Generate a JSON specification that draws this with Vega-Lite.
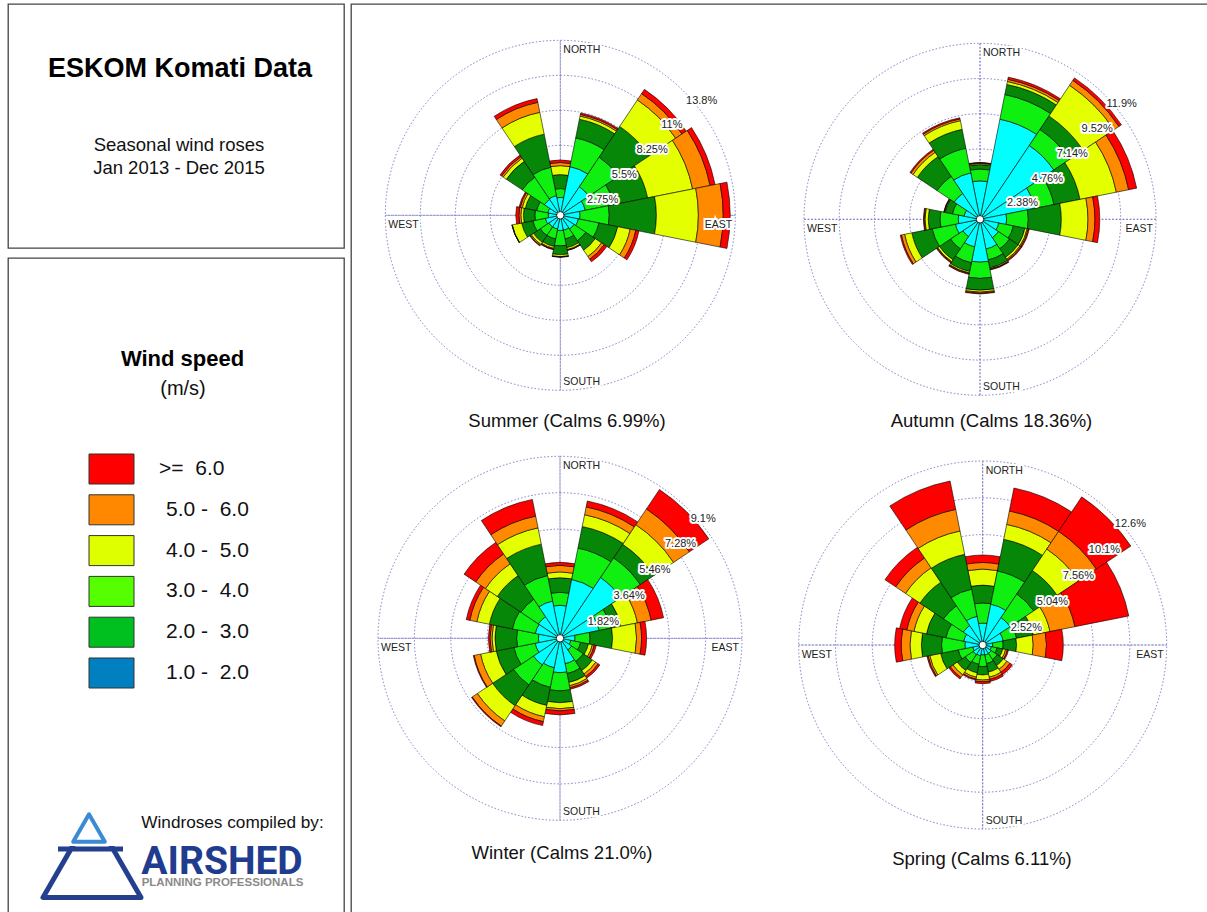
{
  "$schema": "https://vega.github.io/schema/vega-lite/v6.json",
  "background": "white",
  "padding": {"left": 7, "top": 3, "right": 0, "bottom": 0},
  "config": {"font": "Liberation Sans", "view": {"stroke": "#444444", "strokeWidth": 1.3}},
  "datasets": {
    "dirs": [
      {"dir":"N","a0":-11.25,"a1":11.25},{"dir":"NNE","a0":11.25,"a1":33.75},{"dir":"NE","a0":33.75,"a1":56.25},{"dir":"ENE","a0":56.25,"a1":78.75},
      {"dir":"E","a0":78.75,"a1":101.25},{"dir":"ESE","a0":101.25,"a1":123.75},{"dir":"SE","a0":123.75,"a1":146.25},{"dir":"SSE","a0":146.25,"a1":168.75},
      {"dir":"S","a0":168.75,"a1":191.25},{"dir":"SSW","a0":191.25,"a1":213.75},{"dir":"SW","a0":213.75,"a1":236.25},{"dir":"WSW","a0":236.25,"a1":258.75},
      {"dir":"W","a0":258.75,"a1":281.25},{"dir":"WNW","a0":281.25,"a1":303.75},{"dir":"NW","a0":303.75,"a1":326.25},{"dir":"NNW","a0":326.25,"a1":348.75}
    ],
    "axes": [{"a":0},{"a":90},{"a":180},{"a":270}],
    "dNW": [{"l":"NORTH","a":0},{"l":"WEST","a":270}],
    "dE": [{"l":"EAST","a":90}],
    "dS": [{"l":"SOUTH","a":180}],
    "rS": [{"r":2.75,"t":"2.75%"},{"r":5.5,"t":"5.5%"},{"r":8.25,"t":"8.25%"},{"r":11,"t":"11%"},{"r":13.75,"t":"13.8%"}],
    "rA": [{"r":2.38,"t":"2.38%"},{"r":4.76,"t":"4.76%"},{"r":7.14,"t":"7.14%"},{"r":9.52,"t":"9.52%"},{"r":11.9,"t":"11.9%"}],
    "rW": [{"r":1.82,"t":"1.82%"},{"r":3.64,"t":"3.64%"},{"r":5.46,"t":"5.46%"},{"r":7.28,"t":"7.28%"},{"r":9.1,"t":"9.1%"}],
    "rP": [{"r":2.52,"t":"2.52%"},{"r":5.04,"t":"5.04%"},{"r":7.56,"t":"7.56%"},{"r":10.08,"t":"10.1%"},{"r":12.6,"t":"12.6%"}],
    "legend": [
      {"cls":"c6","lab":">=\u00a0 6.0"},{"cls":"c5","lab":"5.0 -\u00a0 6.0"},{"cls":"c4","lab":"4.0 -\u00a0 5.0"},
      {"cls":"c3","lab":"3.0 -\u00a0 4.0"},{"cls":"c2","lab":"2.0 -\u00a0 3.0"},{"cls":"c1","lab":"1.0 -\u00a0 2.0"}
    ],
    "wind": [
      {"season":"Summer","dir":"N","c1":1.4,"c2":0.7,"c3":1.1,"c4":0.7,"c5":0.25,"c6":0.2},
      {"season":"Summer","dir":"NNE","c1":3.9,"c2":2.3,"c3":1.5,"c4":0.25,"c5":0.13,"c6":0.12},
      {"season":"Summer","dir":"NE","c1":2.7,"c2":2.8,"c3":2.9,"c4":2.5,"c5":0.6,"c6":0.4},
      {"season":"Summer","dir":"ENE","c1":2.0,"c2":2.3,"c3":2.7,"c4":3.6,"c5":1.4,"c6":0.4},
      {"season":"Summer","dir":"E","c1":1.55,"c2":2.3,"c3":3.7,"c4":3.3,"c5":1.95,"c6":0.55},
      {"season":"Summer","dir":"ESE","c1":1.45,"c2":1.65,"c3":1.5,"c4":1.0,"c5":0.45,"c6":0.25},
      {"season":"Summer","dir":"SE","c1":1.3,"c2":1.1,"c3":0.9,"c4":0.6,"c5":0.25,"c6":0.25},
      {"season":"Summer","dir":"SSE","c1":1.2,"c2":0.7,"c3":0.7,"c4":0.15,"c5":0.05,"c6":0.02},
      {"season":"Summer","dir":"S","c1":1.2,"c2":1.2,"c3":0.7,"c4":0.15,"c5":0.03,"c6":0.02},
      {"season":"Summer","dir":"SSW","c1":1.1,"c2":0.8,"c3":0.6,"c4":0.15,"c5":0.07,"c6":0.03},
      {"season":"Summer","dir":"SW","c1":1.1,"c2":0.8,"c3":0.65,"c4":0.2,"c5":0.1,"c6":0.05},
      {"season":"Summer","dir":"WSW","c1":1.2,"c2":1.0,"c3":0.9,"c4":0.75,"c5":0.02,"c6":0.01},
      {"season":"Summer","dir":"W","c1":0.95,"c2":1.05,"c3":0.9,"c4":0.2,"c5":0.15,"c6":0.25},
      {"season":"Summer","dir":"WNW","c1":1.0,"c2":0.9,"c3":0.9,"c4":0.25,"c5":0.15,"c6":0.1},
      {"season":"Summer","dir":"NW","c1":1.5,"c2":2.1,"c3":1.5,"c4":0.3,"c5":0.15,"c6":0.15},
      {"season":"Summer","dir":"NNW","c1":1.57,"c2":2.28,"c3":2.65,"c4":1.75,"c5":0.8,"c6":0.3},
      {"season":"Autumn","dir":"N","c1":2.6,"c2":0.8,"c3":0.3,"c4":0.08,"c5":0.04,"c6":0.03},
      {"season":"Autumn","dir":"NNE","c1":6.9,"c2":1.7,"c3":0.7,"c4":0.2,"c5":0.15,"c6":0.15},
      {"season":"Autumn","dir":"NE","c1":6.0,"c2":1.3,"c3":1.1,"c4":2.5,"c5":0.4,"c6":0.2},
      {"season":"Autumn","dir":"ENE","c1":3.8,"c2":1.3,"c3":1.8,"c4":2.5,"c5":0.85,"c6":0.55},
      {"season":"Autumn","dir":"E","c1":1.8,"c2":1.47,"c3":2.23,"c4":1.8,"c5":0.47,"c6":0.33},
      {"season":"Autumn","dir":"ESE","c1":1.3,"c2":1.0,"c3":0.8,"c4":0.15,"c5":0.08,"c6":0.07},
      {"season":"Autumn","dir":"SE","c1":1.5,"c2":0.9,"c3":0.7,"c4":0.15,"c5":0.08,"c6":0.07},
      {"season":"Autumn","dir":"SSE","c1":2.05,"c2":0.75,"c3":0.55,"c4":0.07,"c5":0.04,"c6":0.04},
      {"season":"Autumn","dir":"S","c1":2.9,"c2":1.1,"c3":0.8,"c4":0.13,"c5":0.07,"c6":0.05},
      {"season":"Autumn","dir":"SSW","c1":1.9,"c2":1.1,"c3":0.6,"c4":0.1,"c5":0.05,"c6":0.05},
      {"season":"Autumn","dir":"SW","c1":1.4,"c2":1.0,"c3":0.9,"c4":0.15,"c5":0.05,"c6":0.05},
      {"season":"Autumn","dir":"WSW","c1":1.7,"c2":1.6,"c3":1.4,"c4":0.5,"c5":0.22,"c6":0.08},
      {"season":"Autumn","dir":"W","c1":1.47,"c2":1.23,"c3":0.8,"c4":0.22,"c5":0.06,"c6":0.05},
      {"season":"Autumn","dir":"WNW","c1":1.1,"c2":0.8,"c3":0.5,"c4":0.05,"c5":0.03,"c6":0.02},
      {"season":"Autumn","dir":"NW","c1":2.1,"c2":1.4,"c3":1.6,"c4":0.35,"c5":0.17,"c6":0.08},
      {"season":"Autumn","dir":"NNW","c1":3.2,"c2":1.7,"c3":1.3,"c4":0.6,"c5":0.12,"c6":0.08},
      {"season":"Winter","dir":"N","c1":1.65,"c2":0.65,"c3":0.73,"c4":0.29,"c5":0.33,"c6":0.15},
      {"season":"Winter","dir":"NNE","c1":3.0,"c2":1.6,"c3":1.1,"c4":0.6,"c5":0.4,"c6":0.3},
      {"season":"Winter","dir":"NE","c1":3.65,"c2":1.18,"c3":0.82,"c4":1.18,"c5":0.95,"c6":1.17},
      {"season":"Winter","dir":"ENE","c1":2.0,"c2":0.6,"c3":0.5,"c4":0.85,"c5":0.7,"c6":0.63},
      {"season":"Winter","dir":"E","c1":0.75,"c2":0.75,"c3":1.13,"c4":1.2,"c5":0.25,"c6":0.25},
      {"season":"Winter","dir":"ESE","c1":0.55,"c2":0.5,"c3":0.4,"c4":0.2,"c5":0.1,"c6":0.1},
      {"season":"Winter","dir":"SE","c1":0.7,"c2":0.7,"c3":0.55,"c4":0.2,"c5":0.15,"c6":0.1},
      {"season":"Winter","dir":"SSE","c1":1.3,"c2":0.5,"c3":0.45,"c4":0.17,"c5":0.1,"c6":0.08},
      {"season":"Winter","dir":"S","c1":1.72,"c2":0.91,"c3":0.59,"c4":0.3,"c5":0.11,"c6":0.2},
      {"season":"Winter","dir":"SSW","c1":1.5,"c2":1.0,"c3":0.92,"c4":0.58,"c5":0.25,"c6":0.2},
      {"season":"Winter","dir":"SW","c1":1.6,"c2":1.2,"c3":1.25,"c4":0.92,"c5":0.31,"c6":0.04},
      {"season":"Winter","dir":"WSW","c1":1.27,"c2":1.08,"c3":0.9,"c4":0.8,"c5":0.33,"c6":0.04},
      {"season":"Winter","dir":"W","c1":1.08,"c2":1.09,"c3":1.08,"c4":0.15,"c5":0.1,"c6":0.08},
      {"season":"Winter","dir":"WNW","c1":1.26,"c2":1.17,"c3":1.17,"c4":0.64,"c5":0.36,"c6":0.18},
      {"season":"Winter","dir":"NW","c1":1.3,"c2":1.05,"c3":1.42,"c4":0.71,"c5":0.59,"c6":0.7},
      {"season":"Winter","dir":"NNW","c1":1.9,"c2":1.3,"c3":1.6,"c4":0.83,"c5":0.6,"c6":0.85},
      {"season":"Spring","dir":"N","c1":1.5,"c2":1.38,"c3":1.22,"c4":1.1,"c5":0.45,"c6":0.51},
      {"season":"Spring","dir":"NNE","c1":2.85,"c2":2.32,"c3":2.21,"c4":1.04,"c5":0.94,"c6":1.6},
      {"season":"Spring","dir":"NE","c1":2.26,"c2":1.94,"c3":1.93,"c4":1.77,"c5":1.46,"c6":2.84},
      {"season":"Spring","dir":"ENE","c1":1.44,"c2":0.93,"c3":1.17,"c4":1.16,"c5":1.74,"c6":3.76},
      {"season":"Spring","dir":"E","c1":0.68,"c2":0.72,"c3":0.92,"c4":1.14,"c5":0.91,"c6":1.15},
      {"season":"Spring","dir":"ESE","c1":0.6,"c2":0.4,"c3":0.4,"c4":0.2,"c5":0.12,"c6":0.08},
      {"season":"Spring","dir":"SE","c1":0.7,"c2":0.5,"c3":0.5,"c4":0.3,"c5":0.25,"c6":0.2},
      {"season":"Spring","dir":"SSE","c1":0.7,"c2":0.6,"c3":0.6,"c4":0.35,"c5":0.15,"c6":0.15},
      {"season":"Spring","dir":"S","c1":0.68,"c2":0.8,"c3":0.57,"c4":0.35,"c5":0.12,"c6":0.13},
      {"season":"Spring","dir":"SSW","c1":0.75,"c2":0.6,"c3":0.6,"c4":0.3,"c5":0.13,"c6":0.07},
      {"season":"Spring","dir":"SW","c1":0.8,"c2":0.65,"c3":0.65,"c4":0.35,"c5":0.23,"c6":0.12},
      {"season":"Spring","dir":"WSW","c1":0.7,"c2":1.01,"c3":1.23,"c4":0.76,"c5":0.12,"c6":0.08},
      {"season":"Spring","dir":"W","c1":1.22,"c2":1.6,"c3":1.38,"c4":0.78,"c5":0.6,"c6":0.45},
      {"season":"Spring","dir":"WNW","c1":1.33,"c2":1.24,"c3":1.36,"c4":0.87,"c5":0.5,"c6":0.5},
      {"season":"Spring","dir":"NW","c1":1.6,"c2":1.63,"c3":1.94,"c4":1.19,"c5":0.81,"c6":0.88},
      {"season":"Spring","dir":"NNW","c1":2.0,"c2":1.9,"c3":2.43,"c4":1.63,"c5":1.51,"c6":1.98}
    ]
  },
  "spacing": 5,
  "hconcat": [
    {
      "spacing": 8,
      "vconcat": [
        {
          "width": 336, "height": 244,
          "data": {"values": [{}]},
          "encoding": {
            "x": {"datum": "c", "type": "nominal", "scale": {"type": "point", "domain": ["c"], "range": [171, 171], "padding": 0}, "axis": null}
          },
          "layer": [
            {"mark": {"type": "text", "text": "ESKOM Komati Data", "fontSize": 27, "fontWeight": "bold", "align": "center", "baseline": "middle", "dx": 1, "color": "#000000"},
             "encoding": {"y": {"datum": "a", "type": "nominal", "scale": {"type": "point", "domain": ["a", "b"], "range": [65, 141], "padding": 0}, "axis": null}}},
            {"mark": {"type": "text", "text": ["Seasonal wind roses", "Jan 2013 - Dec 2015"], "lineHeight": 23, "fontSize": 18.5, "align": "center", "baseline": "middle", "color": "#111111"},
             "encoding": {"y": {"datum": "b", "type": "nominal", "axis": null}}}
          ]
        },
        {
          "width": 336, "height": 660,
          "resolve": {"scale": {"x": "independent", "y": "independent"}},
          "layer": [
            {"data": {"values": [{}]}, "mark": {"type": "text", "text": "Wind speed", "fontSize": 22, "fontWeight": "bold", "align": "center", "baseline": "middle", "dx": 6.5, "dy": -229, "color": "#000000"}, "encoding": {}},
            {"data": {"values": [{}]}, "mark": {"type": "text", "text": "(m/s)", "fontSize": 20, "align": "center", "baseline": "middle", "dx": 7, "dy": -199, "color": "#111111"}, "encoding": {}},
            {
              "data": {"name": "legend"},
              "layer": [
                {
                  "mark": {"type": "point", "shape": "M-1,-0.667H1V0.667H-1Z", "size": 2025, "filled": true, "stroke": "#333333", "strokeWidth": 1, "opacity": 1},
                  "encoding": {
                    "x": {"datum": "swatch", "type": "nominal", "scale": {"type": "point", "domain": ["swatch", "label"], "range": [103.5, 151], "padding": 0}, "axis": null},
                    "y": {"field": "cls", "type": "nominal", "scale": {"type": "point", "domain": ["c6","c5","c4","c3","c2","c1"], "range": [211, 415], "padding": 0}, "axis": null},
                    "fill": {"field": "cls", "type": "nominal", "scale": {"domain": ["c6","c5","c4","c3","c2","c1"], "range": ["#ff0000","#ff8800","#ddff00","#55ff00","#00c020","#0080c0"]}, "legend": null}
                  }
                },
                {
                  "transform": [{"filter": {"field": "cls", "equal": "c6"}}],
                  "mark": {"type": "text", "align": "left", "baseline": "middle", "fontSize": 21, "color": "#111111"},
                  "encoding": {
                    "x": {"datum": "label", "type": "nominal", "axis": null},
                    "y": {"field": "cls", "type": "nominal", "axis": null},
                    "text": {"field": "lab"}
                  }
                },
                {
                  "transform": [{"filter": {"not": {"field": "cls", "equal": "c6"}}}],
                  "mark": {"type": "text", "align": "left", "baseline": "middle", "fontSize": 21, "dx": 7, "color": "#111111"},
                  "encoding": {
                    "x": {"datum": "label", "type": "nominal", "axis": null},
                    "y": {"field": "cls", "type": "nominal", "axis": null},
                    "text": {"field": "lab"}
                  }
                }
              ]
            },
            {"data": {"values": [{}]}, "mark": {"type": "text", "text": "Windroses compiled by:", "fontSize": 17.2, "align": "center", "baseline": "middle", "dx": 56.5, "dy": 235, "color": "#111111"}, "encoding": {}},
            {"data": {"values": [{}]}, "mark": {"type": "text", "text": "AIRSHED", "font": "Roboto", "fontSize": 39, "fontWeight": "bold", "align": "center", "baseline": "middle", "dx": 46, "dy": 274, "color": "#1f3c8f"}, "encoding": {}},
            {"data": {"values": [{}]}, "mark": {"type": "text", "text": "PLANNING PROFESSIONALS", "fontSize": 11.5, "fontWeight": "bold", "align": "center", "baseline": "middle", "dx": 46.5, "dy": 295, "color": "#8a8a8a"}, "encoding": {}},
            {"data": {"values": [{}]}, "mark": {"type": "point", "shape": "triangle-up", "size": 9604, "filled": false, "color": "#233f8e", "strokeWidth": 5, "strokeJoin": "round", "opacity": 1},
             "encoding": {"x": {"datum": "c", "type": "nominal", "scale": {"type": "point", "domain": ["c"], "range": [84, 84], "padding": 0}, "axis": null},
                          "y": {"datum": "c", "type": "nominal", "scale": {"type": "point", "domain": ["c"], "range": [597, 597], "padding": 0}, "axis": null}}},
            {"data": {"values": [{}]}, "mark": {"type": "point", "shape": "triangle-up", "size": 2134, "filled": true, "color": "#ffffff", "strokeWidth": 0, "opacity": 1},
             "encoding": {"x": {"datum": "c", "type": "nominal", "scale": {"type": "point", "domain": ["c"], "range": [84, 84], "padding": 0}, "axis": null},
                          "y": {"datum": "c", "type": "nominal", "scale": {"type": "point", "domain": ["c"], "range": [568, 568], "padding": 0}, "axis": null}}},
            {"data": {"values": [{}]}, "mark": {"type": "point", "shape": "M-1,-0.08H1V0.08H-1Z", "size": 4225, "filled": true, "color": "#233f8e", "strokeWidth": 0, "opacity": 1},
             "encoding": {"x": {"datum": "c", "type": "nominal", "scale": {"type": "point", "domain": ["c"], "range": [82.5, 82.5], "padding": 0}, "axis": null},
                          "y": {"datum": "c", "type": "nominal", "scale": {"type": "point", "domain": ["c"], "range": [591, 591], "padding": 0}, "axis": null}}},
            {"data": {"values": [{}]}, "mark": {"type": "point", "shape": "triangle-up", "size": 1000, "filled": false, "color": "#3a8ad4", "strokeWidth": 4, "strokeJoin": "round", "opacity": 1},
             "encoding": {"x": {"datum": "c", "type": "nominal", "scale": {"type": "point", "domain": ["c"], "range": [81, 81], "padding": 0}, "axis": null},
                          "y": {"datum": "c", "type": "nominal", "scale": {"type": "point", "domain": ["c"], "range": [570, 570], "padding": 0}, "axis": null}}}
          ]
        }
      ]
    },
    {
      "width": 858, "height": 912,
      "resolve": {"scale": {"radius": "independent", "x": "independent", "y": "independent"}},
      "layer": [
        {
          "encoding": {
            "x": {"datum": "c", "type": "nominal", "scale": {"type": "point", "domain": ["c"], "range": [209.3, 209.3], "padding": 0}, "axis": null},
            "y": {"datum": "c", "type": "nominal", "scale": {"type": "point", "domain": ["c"], "range": [211.3, 211.3], "padding": 0}, "axis": null}
          },
          "layer": [
            {"data": {"name": "rS"}, "mark": {"type": "arc", "clip": true, "fill": "transparent", "stroke": "#7d7dc8", "strokeWidth": 1, "strokeDash": [1.5, 2]},
             "encoding": {"theta": {"datum": 0, "type": "quantitative", "scale": {"type": "linear", "domain": [0, 360], "range": [0, 6.283185307179586], "zero": false, "nice": false}}, "theta2": {"datum": 360},
                          "radius": {"field": "r", "type": "quantitative", "stack": null, "scale": {"type": "linear", "domain": [0, 13.75], "range": [0, 175], "zero": true, "nice": false}}}},
            {"data": {"name": "axes"}, "mark": {"type": "arc", "clip": true, "fill": "transparent", "stroke": "#7d7dc8", "strokeWidth": 1, "strokeDash": [1.5, 2]},
             "encoding": {"theta": {"field": "a", "type": "quantitative", "scale": {"type": "linear", "domain": [0, 360], "range": [0, 6.283185307179586], "zero": false, "nice": false}}, "theta2": {"field": "a"},
                          "radius": {"datum": 13.75, "type": "quantitative", "scale": {"type": "linear", "domain": [0, 13.75], "range": [0, 175], "zero": true, "nice": false}}, "radius2": {"datum": 0}}},
            {"data": {"name": "wind"},
             "transform": [
               {"filter": {"field": "season", "equal": "Summer"}},
               {"fold": ["c1","c2","c3","c4","c5","c6"], "as": ["cls","pct"]},
               {"lookup": "dir", "from": {"data": {"name": "dirs"}, "key": "dir", "fields": ["a0","a1"]}},
               {"stack": "pct", "groupby": ["dir"], "sort": [{"field": "cls", "order": "ascending"}], "as": ["p0","p1"]}
             ],
             "mark": {"type": "arc", "clip": true, "stroke": "#000000", "strokeWidth": 0.6},
             "encoding": {"theta": {"field": "a0", "type": "quantitative", "scale": {"type": "linear", "domain": [0, 360], "range": [0, 6.283185307179586], "zero": false, "nice": false}}, "theta2": {"field": "a1"},
                          "radius": {"field": "p1", "type": "quantitative", "scale": {"type": "linear", "domain": [0, 13.75], "range": [0, 175], "zero": true, "nice": false}}, "radius2": {"field": "p0"},
                          "color": {"field": "cls", "type": "nominal", "scale": {"domain": ["c1","c2","c3","c4","c5","c6"], "range": ["#00ffff","#10f010","#078707","#e4ff00","#ff8a00","#ff0000"]}, "legend": null}}},
            {"data": {"values": [{}]}, "mark": {"type": "point", "shape": "circle", "filled": true, "fill": "#ffffff", "stroke": "#000000", "strokeWidth": 0.8, "size": 55, "opacity": 1}, "encoding": {}},
            {"data": {"name": "rS"}, "mark": {"type": "text", "align": "left", "baseline": "middle", "dx": 2, "dy": 9, "fontSize": 11, "fill": "#ffffff", "stroke": "#ffffff", "strokeWidth": 4, "strokeJoin": "round"},
             "encoding": {"theta": {"datum": 45, "type": "quantitative", "scale": {"type": "linear", "domain": [0, 360], "range": [0, 6.283185307179586], "zero": false, "nice": false}}, "radius": {"field": "r", "type": "quantitative", "scale": {"type": "linear", "domain": [0, 13.75], "range": [0, 175], "zero": true, "nice": false}}, "text": {"field": "t"}}},
            {"data": {"name": "rS"}, "mark": {"type": "text", "align": "left", "baseline": "middle", "dx": 2, "dy": 9, "fontSize": 11, "fill": "#222222"},
             "encoding": {"theta": {"datum": 45, "type": "quantitative", "scale": {"type": "linear", "domain": [0, 360], "range": [0, 6.283185307179586], "zero": false, "nice": false}}, "radius": {"field": "r", "type": "quantitative", "scale": {"type": "linear", "domain": [0, 13.75], "range": [0, 175], "zero": true, "nice": false}}, "text": {"field": "t"}}},
            {"data": {"name": "dNW"}, "mark": {"type": "text", "align": "left", "baseline": "middle", "dx": 3, "dy": 10, "fontSize": 10.5, "fill": "#ffffff", "stroke": "#ffffff", "strokeWidth": 4},
             "encoding": {"theta": {"field": "a", "type": "quantitative", "scale": {"type": "linear", "domain": [0, 360], "range": [0, 6.283185307179586], "zero": false, "nice": false}}, "radius": {"datum": 13.75, "type": "quantitative", "scale": {"type": "linear", "domain": [0, 13.75], "range": [0, 175], "zero": true, "nice": false}}, "text": {"field": "l"}}},
            {"data": {"name": "dNW"}, "mark": {"type": "text", "align": "left", "baseline": "middle", "dx": 3, "dy": 10, "fontSize": 10.5, "fill": "#222222"},
             "encoding": {"theta": {"field": "a", "type": "quantitative", "scale": {"type": "linear", "domain": [0, 360], "range": [0, 6.283185307179586], "zero": false, "nice": false}}, "radius": {"datum": 13.75, "type": "quantitative", "scale": {"type": "linear", "domain": [0, 13.75], "range": [0, 175], "zero": true, "nice": false}}, "text": {"field": "l"}}},
            {"data": {"name": "dE"}, "mark": {"type": "text", "align": "right", "baseline": "middle", "dx": -3, "dy": 10, "fontSize": 10.5, "fill": "#ffffff", "stroke": "#ffffff", "strokeWidth": 4},
             "encoding": {"theta": {"field": "a", "type": "quantitative", "scale": {"type": "linear", "domain": [0, 360], "range": [0, 6.283185307179586], "zero": false, "nice": false}}, "radius": {"datum": 13.75, "type": "quantitative", "scale": {"type": "linear", "domain": [0, 13.75], "range": [0, 175], "zero": true, "nice": false}}, "text": {"field": "l"}}},
            {"data": {"name": "dE"}, "mark": {"type": "text", "align": "right", "baseline": "middle", "dx": -3, "dy": 10, "fontSize": 10.5, "fill": "#222222"},
             "encoding": {"theta": {"field": "a", "type": "quantitative", "scale": {"type": "linear", "domain": [0, 360], "range": [0, 6.283185307179586], "zero": false, "nice": false}}, "radius": {"datum": 13.75, "type": "quantitative", "scale": {"type": "linear", "domain": [0, 13.75], "range": [0, 175], "zero": true, "nice": false}}, "text": {"field": "l"}}},
            {"data": {"name": "dS"}, "mark": {"type": "text", "align": "left", "baseline": "middle", "dx": 3, "dy": -8, "fontSize": 10.5, "fill": "#ffffff", "stroke": "#ffffff", "strokeWidth": 4},
             "encoding": {"theta": {"field": "a", "type": "quantitative", "scale": {"type": "linear", "domain": [0, 360], "range": [0, 6.283185307179586], "zero": false, "nice": false}}, "radius": {"datum": 13.75, "type": "quantitative", "scale": {"type": "linear", "domain": [0, 13.75], "range": [0, 175], "zero": true, "nice": false}}, "text": {"field": "l"}}},
            {"data": {"name": "dS"}, "mark": {"type": "text", "align": "left", "baseline": "middle", "dx": 3, "dy": -8, "fontSize": 10.5, "fill": "#222222"},
             "encoding": {"theta": {"field": "a", "type": "quantitative", "scale": {"type": "linear", "domain": [0, 360], "range": [0, 6.283185307179586], "zero": false, "nice": false}}, "radius": {"datum": 13.75, "type": "quantitative", "scale": {"type": "linear", "domain": [0, 13.75], "range": [0, 175], "zero": true, "nice": false}}, "text": {"field": "l"}}},
            {"data": {"values": [{"t": "Summer (Calms 6.99%)"}]}, "mark": {"type": "text", "align": "center", "baseline": "middle", "dx": 6.7, "fontSize": 18.5, "fill": "#111111"},
             "encoding": {"theta": {"datum": 180, "type": "quantitative", "scale": {"type": "linear", "domain": [0, 360], "range": [0, 6.283185307179586], "zero": false, "nice": false}}, "radius": {"datum": 16.16, "type": "quantitative", "scale": {"type": "linear", "domain": [0, 13.75], "range": [0, 175], "zero": true, "nice": false}}, "text": {"field": "t"}}}
          ]
        },
        {
          "encoding": {
            "x": {"datum": "c", "type": "nominal", "scale": {"type": "point", "domain": ["c"], "range": [629, 629], "padding": 0}, "axis": null},
            "y": {"datum": "c", "type": "nominal", "scale": {"type": "point", "domain": ["c"], "range": [215.3, 215.3], "padding": 0}, "axis": null}
          },
          "layer": [
            {"data": {"name": "rA"}, "mark": {"type": "arc", "clip": true, "fill": "transparent", "stroke": "#7d7dc8", "strokeWidth": 1, "strokeDash": [1.5, 2]},
             "encoding": {"theta": {"datum": 0, "type": "quantitative", "scale": {"type": "linear", "domain": [0, 360], "range": [0, 6.283185307179586], "zero": false, "nice": false}}, "theta2": {"datum": 360},
                          "radius": {"field": "r", "type": "quantitative", "stack": null, "scale": {"type": "linear", "domain": [0, 11.9], "range": [0, 176], "zero": true, "nice": false}}}},
            {"data": {"name": "axes"}, "mark": {"type": "arc", "clip": true, "fill": "transparent", "stroke": "#7d7dc8", "strokeWidth": 1, "strokeDash": [1.5, 2]},
             "encoding": {"theta": {"field": "a", "type": "quantitative", "scale": {"type": "linear", "domain": [0, 360], "range": [0, 6.283185307179586], "zero": false, "nice": false}}, "theta2": {"field": "a"},
                          "radius": {"datum": 11.9, "type": "quantitative", "scale": {"type": "linear", "domain": [0, 11.9], "range": [0, 176], "zero": true, "nice": false}}, "radius2": {"datum": 0}}},
            {"data": {"name": "wind"},
             "transform": [
               {"filter": {"field": "season", "equal": "Autumn"}},
               {"fold": ["c1","c2","c3","c4","c5","c6"], "as": ["cls","pct"]},
               {"lookup": "dir", "from": {"data": {"name": "dirs"}, "key": "dir", "fields": ["a0","a1"]}},
               {"stack": "pct", "groupby": ["dir"], "sort": [{"field": "cls", "order": "ascending"}], "as": ["p0","p1"]}
             ],
             "mark": {"type": "arc", "clip": true, "stroke": "#000000", "strokeWidth": 0.6},
             "encoding": {"theta": {"field": "a0", "type": "quantitative", "scale": {"type": "linear", "domain": [0, 360], "range": [0, 6.283185307179586], "zero": false, "nice": false}}, "theta2": {"field": "a1"},
                          "radius": {"field": "p1", "type": "quantitative", "scale": {"type": "linear", "domain": [0, 11.9], "range": [0, 176], "zero": true, "nice": false}}, "radius2": {"field": "p0"},
                          "color": {"field": "cls", "type": "nominal", "scale": {"domain": ["c1","c2","c3","c4","c5","c6"], "range": ["#00ffff","#10f010","#078707","#e4ff00","#ff8a00","#ff0000"]}, "legend": null}}},
            {"data": {"values": [{}]}, "mark": {"type": "point", "shape": "circle", "filled": true, "fill": "#ffffff", "stroke": "#000000", "strokeWidth": 0.8, "size": 55, "opacity": 1}, "encoding": {}},
            {"data": {"name": "rA"}, "mark": {"type": "text", "align": "left", "baseline": "middle", "dx": 2, "dy": 9, "fontSize": 11, "fill": "#ffffff", "stroke": "#ffffff", "strokeWidth": 4, "strokeJoin": "round"},
             "encoding": {"theta": {"datum": 45, "type": "quantitative", "scale": {"type": "linear", "domain": [0, 360], "range": [0, 6.283185307179586], "zero": false, "nice": false}}, "radius": {"field": "r", "type": "quantitative", "scale": {"type": "linear", "domain": [0, 11.9], "range": [0, 176], "zero": true, "nice": false}}, "text": {"field": "t"}}},
            {"data": {"name": "rA"}, "mark": {"type": "text", "align": "left", "baseline": "middle", "dx": 2, "dy": 9, "fontSize": 11, "fill": "#222222"},
             "encoding": {"theta": {"datum": 45, "type": "quantitative", "scale": {"type": "linear", "domain": [0, 360], "range": [0, 6.283185307179586], "zero": false, "nice": false}}, "radius": {"field": "r", "type": "quantitative", "scale": {"type": "linear", "domain": [0, 11.9], "range": [0, 176], "zero": true, "nice": false}}, "text": {"field": "t"}}},
            {"data": {"name": "dNW"}, "mark": {"type": "text", "align": "left", "baseline": "middle", "dx": 3, "dy": 10, "fontSize": 10.5, "fill": "#ffffff", "stroke": "#ffffff", "strokeWidth": 4},
             "encoding": {"theta": {"field": "a", "type": "quantitative", "scale": {"type": "linear", "domain": [0, 360], "range": [0, 6.283185307179586], "zero": false, "nice": false}}, "radius": {"datum": 11.9, "type": "quantitative", "scale": {"type": "linear", "domain": [0, 11.9], "range": [0, 176], "zero": true, "nice": false}}, "text": {"field": "l"}}},
            {"data": {"name": "dNW"}, "mark": {"type": "text", "align": "left", "baseline": "middle", "dx": 3, "dy": 10, "fontSize": 10.5, "fill": "#222222"},
             "encoding": {"theta": {"field": "a", "type": "quantitative", "scale": {"type": "linear", "domain": [0, 360], "range": [0, 6.283185307179586], "zero": false, "nice": false}}, "radius": {"datum": 11.9, "type": "quantitative", "scale": {"type": "linear", "domain": [0, 11.9], "range": [0, 176], "zero": true, "nice": false}}, "text": {"field": "l"}}},
            {"data": {"name": "dE"}, "mark": {"type": "text", "align": "right", "baseline": "middle", "dx": -3, "dy": 10, "fontSize": 10.5, "fill": "#ffffff", "stroke": "#ffffff", "strokeWidth": 4},
             "encoding": {"theta": {"field": "a", "type": "quantitative", "scale": {"type": "linear", "domain": [0, 360], "range": [0, 6.283185307179586], "zero": false, "nice": false}}, "radius": {"datum": 11.9, "type": "quantitative", "scale": {"type": "linear", "domain": [0, 11.9], "range": [0, 176], "zero": true, "nice": false}}, "text": {"field": "l"}}},
            {"data": {"name": "dE"}, "mark": {"type": "text", "align": "right", "baseline": "middle", "dx": -3, "dy": 10, "fontSize": 10.5, "fill": "#222222"},
             "encoding": {"theta": {"field": "a", "type": "quantitative", "scale": {"type": "linear", "domain": [0, 360], "range": [0, 6.283185307179586], "zero": false, "nice": false}}, "radius": {"datum": 11.9, "type": "quantitative", "scale": {"type": "linear", "domain": [0, 11.9], "range": [0, 176], "zero": true, "nice": false}}, "text": {"field": "l"}}},
            {"data": {"name": "dS"}, "mark": {"type": "text", "align": "left", "baseline": "middle", "dx": 3, "dy": -8, "fontSize": 10.5, "fill": "#ffffff", "stroke": "#ffffff", "strokeWidth": 4},
             "encoding": {"theta": {"field": "a", "type": "quantitative", "scale": {"type": "linear", "domain": [0, 360], "range": [0, 6.283185307179586], "zero": false, "nice": false}}, "radius": {"datum": 11.9, "type": "quantitative", "scale": {"type": "linear", "domain": [0, 11.9], "range": [0, 176], "zero": true, "nice": false}}, "text": {"field": "l"}}},
            {"data": {"name": "dS"}, "mark": {"type": "text", "align": "left", "baseline": "middle", "dx": 3, "dy": -8, "fontSize": 10.5, "fill": "#222222"},
             "encoding": {"theta": {"field": "a", "type": "quantitative", "scale": {"type": "linear", "domain": [0, 360], "range": [0, 6.283185307179586], "zero": false, "nice": false}}, "radius": {"datum": 11.9, "type": "quantitative", "scale": {"type": "linear", "domain": [0, 11.9], "range": [0, 176], "zero": true, "nice": false}}, "text": {"field": "l"}}},
            {"data": {"values": [{"t": "Autumn (Calms 18.36%)"}]}, "mark": {"type": "text", "align": "center", "baseline": "middle", "dx": 11.5, "fontSize": 18.5, "fill": "#111111"},
             "encoding": {"theta": {"datum": 180, "type": "quantitative", "scale": {"type": "linear", "domain": [0, 360], "range": [0, 6.283185307179586], "zero": false, "nice": false}}, "radius": {"datum": 13.64, "type": "quantitative", "scale": {"type": "linear", "domain": [0, 11.9], "range": [0, 176], "zero": true, "nice": false}}, "text": {"field": "t"}}}
          ]
        },
        {
          "encoding": {
            "x": {"datum": "c", "type": "nominal", "scale": {"type": "point", "domain": ["c"], "range": [209, 209], "padding": 0}, "axis": null},
            "y": {"datum": "c", "type": "nominal", "scale": {"type": "point", "domain": ["c"], "range": [634.3, 634.3], "padding": 0}, "axis": null}
          },
          "layer": [
            {"data": {"name": "rW"}, "mark": {"type": "arc", "clip": true, "fill": "transparent", "stroke": "#7d7dc8", "strokeWidth": 1, "strokeDash": [1.5, 2]},
             "encoding": {"theta": {"datum": 0, "type": "quantitative", "scale": {"type": "linear", "domain": [0, 360], "range": [0, 6.283185307179586], "zero": false, "nice": false}}, "theta2": {"datum": 360},
                          "radius": {"field": "r", "type": "quantitative", "stack": null, "scale": {"type": "linear", "domain": [0, 9.1], "range": [0, 182], "zero": true, "nice": false}}}},
            {"data": {"name": "axes"}, "mark": {"type": "arc", "clip": true, "fill": "transparent", "stroke": "#7d7dc8", "strokeWidth": 1, "strokeDash": [1.5, 2]},
             "encoding": {"theta": {"field": "a", "type": "quantitative", "scale": {"type": "linear", "domain": [0, 360], "range": [0, 6.283185307179586], "zero": false, "nice": false}}, "theta2": {"field": "a"},
                          "radius": {"datum": 9.1, "type": "quantitative", "scale": {"type": "linear", "domain": [0, 9.1], "range": [0, 182], "zero": true, "nice": false}}, "radius2": {"datum": 0}}},
            {"data": {"name": "wind"},
             "transform": [
               {"filter": {"field": "season", "equal": "Winter"}},
               {"fold": ["c1","c2","c3","c4","c5","c6"], "as": ["cls","pct"]},
               {"lookup": "dir", "from": {"data": {"name": "dirs"}, "key": "dir", "fields": ["a0","a1"]}},
               {"stack": "pct", "groupby": ["dir"], "sort": [{"field": "cls", "order": "ascending"}], "as": ["p0","p1"]}
             ],
             "mark": {"type": "arc", "clip": true, "stroke": "#000000", "strokeWidth": 0.6},
             "encoding": {"theta": {"field": "a0", "type": "quantitative", "scale": {"type": "linear", "domain": [0, 360], "range": [0, 6.283185307179586], "zero": false, "nice": false}}, "theta2": {"field": "a1"},
                          "radius": {"field": "p1", "type": "quantitative", "scale": {"type": "linear", "domain": [0, 9.1], "range": [0, 182], "zero": true, "nice": false}}, "radius2": {"field": "p0"},
                          "color": {"field": "cls", "type": "nominal", "scale": {"domain": ["c1","c2","c3","c4","c5","c6"], "range": ["#00ffff","#10f010","#078707","#e4ff00","#ff8a00","#ff0000"]}, "legend": null}}},
            {"data": {"values": [{}]}, "mark": {"type": "point", "shape": "circle", "filled": true, "fill": "#ffffff", "stroke": "#000000", "strokeWidth": 0.8, "size": 55, "opacity": 1}, "encoding": {}},
            {"data": {"name": "rW"}, "mark": {"type": "text", "align": "left", "baseline": "middle", "dx": 2, "dy": 9, "fontSize": 11, "fill": "#ffffff", "stroke": "#ffffff", "strokeWidth": 4, "strokeJoin": "round"},
             "encoding": {"theta": {"datum": 45, "type": "quantitative", "scale": {"type": "linear", "domain": [0, 360], "range": [0, 6.283185307179586], "zero": false, "nice": false}}, "radius": {"field": "r", "type": "quantitative", "scale": {"type": "linear", "domain": [0, 9.1], "range": [0, 182], "zero": true, "nice": false}}, "text": {"field": "t"}}},
            {"data": {"name": "rW"}, "mark": {"type": "text", "align": "left", "baseline": "middle", "dx": 2, "dy": 9, "fontSize": 11, "fill": "#222222"},
             "encoding": {"theta": {"datum": 45, "type": "quantitative", "scale": {"type": "linear", "domain": [0, 360], "range": [0, 6.283185307179586], "zero": false, "nice": false}}, "radius": {"field": "r", "type": "quantitative", "scale": {"type": "linear", "domain": [0, 9.1], "range": [0, 182], "zero": true, "nice": false}}, "text": {"field": "t"}}},
            {"data": {"name": "dNW"}, "mark": {"type": "text", "align": "left", "baseline": "middle", "dx": 3, "dy": 10, "fontSize": 10.5, "fill": "#ffffff", "stroke": "#ffffff", "strokeWidth": 4},
             "encoding": {"theta": {"field": "a", "type": "quantitative", "scale": {"type": "linear", "domain": [0, 360], "range": [0, 6.283185307179586], "zero": false, "nice": false}}, "radius": {"datum": 9.1, "type": "quantitative", "scale": {"type": "linear", "domain": [0, 9.1], "range": [0, 182], "zero": true, "nice": false}}, "text": {"field": "l"}}},
            {"data": {"name": "dNW"}, "mark": {"type": "text", "align": "left", "baseline": "middle", "dx": 3, "dy": 10, "fontSize": 10.5, "fill": "#222222"},
             "encoding": {"theta": {"field": "a", "type": "quantitative", "scale": {"type": "linear", "domain": [0, 360], "range": [0, 6.283185307179586], "zero": false, "nice": false}}, "radius": {"datum": 9.1, "type": "quantitative", "scale": {"type": "linear", "domain": [0, 9.1], "range": [0, 182], "zero": true, "nice": false}}, "text": {"field": "l"}}},
            {"data": {"name": "dE"}, "mark": {"type": "text", "align": "right", "baseline": "middle", "dx": -3, "dy": 10, "fontSize": 10.5, "fill": "#ffffff", "stroke": "#ffffff", "strokeWidth": 4},
             "encoding": {"theta": {"field": "a", "type": "quantitative", "scale": {"type": "linear", "domain": [0, 360], "range": [0, 6.283185307179586], "zero": false, "nice": false}}, "radius": {"datum": 9.1, "type": "quantitative", "scale": {"type": "linear", "domain": [0, 9.1], "range": [0, 182], "zero": true, "nice": false}}, "text": {"field": "l"}}},
            {"data": {"name": "dE"}, "mark": {"type": "text", "align": "right", "baseline": "middle", "dx": -3, "dy": 10, "fontSize": 10.5, "fill": "#222222"},
             "encoding": {"theta": {"field": "a", "type": "quantitative", "scale": {"type": "linear", "domain": [0, 360], "range": [0, 6.283185307179586], "zero": false, "nice": false}}, "radius": {"datum": 9.1, "type": "quantitative", "scale": {"type": "linear", "domain": [0, 9.1], "range": [0, 182], "zero": true, "nice": false}}, "text": {"field": "l"}}},
            {"data": {"name": "dS"}, "mark": {"type": "text", "align": "left", "baseline": "middle", "dx": 3, "dy": -8, "fontSize": 10.5, "fill": "#ffffff", "stroke": "#ffffff", "strokeWidth": 4},
             "encoding": {"theta": {"field": "a", "type": "quantitative", "scale": {"type": "linear", "domain": [0, 360], "range": [0, 6.283185307179586], "zero": false, "nice": false}}, "radius": {"datum": 9.1, "type": "quantitative", "scale": {"type": "linear", "domain": [0, 9.1], "range": [0, 182], "zero": true, "nice": false}}, "text": {"field": "l"}}},
            {"data": {"name": "dS"}, "mark": {"type": "text", "align": "left", "baseline": "middle", "dx": 3, "dy": -8, "fontSize": 10.5, "fill": "#222222"},
             "encoding": {"theta": {"field": "a", "type": "quantitative", "scale": {"type": "linear", "domain": [0, 360], "range": [0, 6.283185307179586], "zero": false, "nice": false}}, "radius": {"datum": 9.1, "type": "quantitative", "scale": {"type": "linear", "domain": [0, 9.1], "range": [0, 182], "zero": true, "nice": false}}, "text": {"field": "l"}}},
            {"data": {"values": [{"t": "Winter (Calms 21.0%)"}]}, "mark": {"type": "text", "align": "center", "baseline": "middle", "dx": 2, "fontSize": 18.5, "fill": "#111111"},
             "encoding": {"theta": {"datum": 180, "type": "quantitative", "scale": {"type": "linear", "domain": [0, 360], "range": [0, 6.283185307179586], "zero": false, "nice": false}}, "radius": {"datum": 10.74, "type": "quantitative", "scale": {"type": "linear", "domain": [0, 9.1], "range": [0, 182], "zero": true, "nice": false}}, "text": {"field": "t"}}}
          ]
        },
        {
          "encoding": {
            "x": {"datum": "c", "type": "nominal", "scale": {"type": "point", "domain": ["c"], "range": [631.7, 631.7], "padding": 0}, "axis": null},
            "y": {"datum": "c", "type": "nominal", "scale": {"type": "point", "domain": ["c"], "range": [641, 641], "padding": 0}, "axis": null}
          },
          "layer": [
            {"data": {"name": "rP"}, "mark": {"type": "arc", "clip": true, "fill": "transparent", "stroke": "#7d7dc8", "strokeWidth": 1, "strokeDash": [1.5, 2]},
             "encoding": {"theta": {"datum": 0, "type": "quantitative", "scale": {"type": "linear", "domain": [0, 360], "range": [0, 6.283185307179586], "zero": false, "nice": false}}, "theta2": {"datum": 360},
                          "radius": {"field": "r", "type": "quantitative", "stack": null, "scale": {"type": "linear", "domain": [0, 12.6], "range": [0, 184], "zero": true, "nice": false}}}},
            {"data": {"name": "axes"}, "mark": {"type": "arc", "clip": true, "fill": "transparent", "stroke": "#7d7dc8", "strokeWidth": 1, "strokeDash": [1.5, 2]},
             "encoding": {"theta": {"field": "a", "type": "quantitative", "scale": {"type": "linear", "domain": [0, 360], "range": [0, 6.283185307179586], "zero": false, "nice": false}}, "theta2": {"field": "a"},
                          "radius": {"datum": 12.6, "type": "quantitative", "scale": {"type": "linear", "domain": [0, 12.6], "range": [0, 184], "zero": true, "nice": false}}, "radius2": {"datum": 0}}},
            {"data": {"name": "wind"},
             "transform": [
               {"filter": {"field": "season", "equal": "Spring"}},
               {"fold": ["c1","c2","c3","c4","c5","c6"], "as": ["cls","pct"]},
               {"lookup": "dir", "from": {"data": {"name": "dirs"}, "key": "dir", "fields": ["a0","a1"]}},
               {"stack": "pct", "groupby": ["dir"], "sort": [{"field": "cls", "order": "ascending"}], "as": ["p0","p1"]}
             ],
             "mark": {"type": "arc", "clip": true, "stroke": "#000000", "strokeWidth": 0.6},
             "encoding": {"theta": {"field": "a0", "type": "quantitative", "scale": {"type": "linear", "domain": [0, 360], "range": [0, 6.283185307179586], "zero": false, "nice": false}}, "theta2": {"field": "a1"},
                          "radius": {"field": "p1", "type": "quantitative", "scale": {"type": "linear", "domain": [0, 12.6], "range": [0, 184], "zero": true, "nice": false}}, "radius2": {"field": "p0"},
                          "color": {"field": "cls", "type": "nominal", "scale": {"domain": ["c1","c2","c3","c4","c5","c6"], "range": ["#00ffff","#10f010","#078707","#e4ff00","#ff8a00","#ff0000"]}, "legend": null}}},
            {"data": {"values": [{}]}, "mark": {"type": "point", "shape": "circle", "filled": true, "fill": "#ffffff", "stroke": "#000000", "strokeWidth": 0.8, "size": 55, "opacity": 1}, "encoding": {}},
            {"data": {"name": "rP"}, "mark": {"type": "text", "align": "left", "baseline": "middle", "dx": 2, "dy": 9, "fontSize": 11, "fill": "#ffffff", "stroke": "#ffffff", "strokeWidth": 4, "strokeJoin": "round"},
             "encoding": {"theta": {"datum": 45, "type": "quantitative", "scale": {"type": "linear", "domain": [0, 360], "range": [0, 6.283185307179586], "zero": false, "nice": false}}, "radius": {"field": "r", "type": "quantitative", "scale": {"type": "linear", "domain": [0, 12.6], "range": [0, 184], "zero": true, "nice": false}}, "text": {"field": "t"}}},
            {"data": {"name": "rP"}, "mark": {"type": "text", "align": "left", "baseline": "middle", "dx": 2, "dy": 9, "fontSize": 11, "fill": "#222222"},
             "encoding": {"theta": {"datum": 45, "type": "quantitative", "scale": {"type": "linear", "domain": [0, 360], "range": [0, 6.283185307179586], "zero": false, "nice": false}}, "radius": {"field": "r", "type": "quantitative", "scale": {"type": "linear", "domain": [0, 12.6], "range": [0, 184], "zero": true, "nice": false}}, "text": {"field": "t"}}},
            {"data": {"name": "dNW"}, "mark": {"type": "text", "align": "left", "baseline": "middle", "dx": 3, "dy": 10, "fontSize": 10.5, "fill": "#ffffff", "stroke": "#ffffff", "strokeWidth": 4},
             "encoding": {"theta": {"field": "a", "type": "quantitative", "scale": {"type": "linear", "domain": [0, 360], "range": [0, 6.283185307179586], "zero": false, "nice": false}}, "radius": {"datum": 12.6, "type": "quantitative", "scale": {"type": "linear", "domain": [0, 12.6], "range": [0, 184], "zero": true, "nice": false}}, "text": {"field": "l"}}},
            {"data": {"name": "dNW"}, "mark": {"type": "text", "align": "left", "baseline": "middle", "dx": 3, "dy": 10, "fontSize": 10.5, "fill": "#222222"},
             "encoding": {"theta": {"field": "a", "type": "quantitative", "scale": {"type": "linear", "domain": [0, 360], "range": [0, 6.283185307179586], "zero": false, "nice": false}}, "radius": {"datum": 12.6, "type": "quantitative", "scale": {"type": "linear", "domain": [0, 12.6], "range": [0, 184], "zero": true, "nice": false}}, "text": {"field": "l"}}},
            {"data": {"name": "dE"}, "mark": {"type": "text", "align": "right", "baseline": "middle", "dx": -3, "dy": 10, "fontSize": 10.5, "fill": "#ffffff", "stroke": "#ffffff", "strokeWidth": 4},
             "encoding": {"theta": {"field": "a", "type": "quantitative", "scale": {"type": "linear", "domain": [0, 360], "range": [0, 6.283185307179586], "zero": false, "nice": false}}, "radius": {"datum": 12.6, "type": "quantitative", "scale": {"type": "linear", "domain": [0, 12.6], "range": [0, 184], "zero": true, "nice": false}}, "text": {"field": "l"}}},
            {"data": {"name": "dE"}, "mark": {"type": "text", "align": "right", "baseline": "middle", "dx": -3, "dy": 10, "fontSize": 10.5, "fill": "#222222"},
             "encoding": {"theta": {"field": "a", "type": "quantitative", "scale": {"type": "linear", "domain": [0, 360], "range": [0, 6.283185307179586], "zero": false, "nice": false}}, "radius": {"datum": 12.6, "type": "quantitative", "scale": {"type": "linear", "domain": [0, 12.6], "range": [0, 184], "zero": true, "nice": false}}, "text": {"field": "l"}}},
            {"data": {"name": "dS"}, "mark": {"type": "text", "align": "left", "baseline": "middle", "dx": 3, "dy": -8, "fontSize": 10.5, "fill": "#ffffff", "stroke": "#ffffff", "strokeWidth": 4},
             "encoding": {"theta": {"field": "a", "type": "quantitative", "scale": {"type": "linear", "domain": [0, 360], "range": [0, 6.283185307179586], "zero": false, "nice": false}}, "radius": {"datum": 12.6, "type": "quantitative", "scale": {"type": "linear", "domain": [0, 12.6], "range": [0, 184], "zero": true, "nice": false}}, "text": {"field": "l"}}},
            {"data": {"name": "dS"}, "mark": {"type": "text", "align": "left", "baseline": "middle", "dx": 3, "dy": -8, "fontSize": 10.5, "fill": "#222222"},
             "encoding": {"theta": {"field": "a", "type": "quantitative", "scale": {"type": "linear", "domain": [0, 360], "range": [0, 6.283185307179586], "zero": false, "nice": false}}, "radius": {"datum": 12.6, "type": "quantitative", "scale": {"type": "linear", "domain": [0, 12.6], "range": [0, 184], "zero": true, "nice": false}}, "text": {"field": "l"}}},
            {"data": {"values": [{"t": "Spring (Calms 6.11%)"}]}, "mark": {"type": "text", "align": "center", "baseline": "middle", "dx": -0.7, "fontSize": 18.5, "fill": "#111111"},
             "encoding": {"theta": {"datum": 180, "type": "quantitative", "scale": {"type": "linear", "domain": [0, 360], "range": [0, 6.283185307179586], "zero": false, "nice": false}}, "radius": {"datum": 14.66, "type": "quantitative", "scale": {"type": "linear", "domain": [0, 12.6], "range": [0, 184], "zero": true, "nice": false}}, "text": {"field": "t"}}}
          ]
        }
      ]
    }
  ]
}
